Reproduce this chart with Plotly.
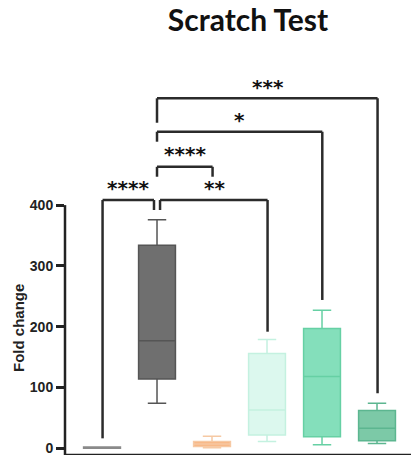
import plotly.graph_objects as go

groups = ["Control", "Scratch", "G3", "G4", "G5", "G6"]
xpos = [0, 1, 2, 3, 4, 5]
q1 = [0, 114, 3, 22, 19, 12.5]
median = [1, 177, 7, 63, 118, 33]
q3 = [2, 334, 11, 156, 197, 62]
lowerfence = [0, 74, 1, 11, 6, 8]
upperfence = [2, 376, 20, 179, 227, 74]
fills = ["#9a9a9a", "#6f6f6f", "#f8b37f", "#dcf8ee", "#84dfbb", "#7cc9a7"]
edges = ["#8a8a8a", "#555555", "#f6c9a4", "#c4f1e0", "#66d0a4", "#5cb690"]

# significance brackets: (x_left, x_right, y_bar, y_left_end, y_right_end, label, label_x, label_y)
br_xl = [1.0, 1.0, 1.0, 0.01, 1.055]
br_xr = [5.01, 4.005, 2.01, 0.945, 3.01]
br_y = [575.7, 520.7, 463, 408.4, 408.4]
br_yl = [535.5, 504.3, 446.7, 16.4, 392]
br_yr = [90.5, 244, 446.7, 392, 191.8]
br_lab = ["***", "*", "****", "****", "**"]
br_lx = [3.02, 2.5, 1.5, 0.48, 2.04]
br_ly = [594.7, 540, 483.6, 428.6, 428.6]

fig = go.Figure()
for i in range(len(groups)):
    fig.add_trace(go.Box(
        x=[xpos[i]], q1=[q1[i]], median=[median[i]], q3=[q3[i]],
        lowerfence=[lowerfence[i]], upperfence=[upperfence[i]],
        fillcolor=fills[i], line=dict(color=edges[i], width=1.5),
        width=0.67, whiskerwidth=0.5, boxpoints=False, name=groups[i],
        showlegend=False, hoverinfo="skip"))

shapes = []
lc = "#2b2b2b"
for i in range(len(br_lab)):
    shapes.append(dict(type="line", xref="x", yref="y", x0=br_xl[i], x1=br_xr[i],
                       y0=br_y[i], y1=br_y[i], line=dict(color=lc, width=2.5)))
    shapes.append(dict(type="line", xref="x", yref="y", x0=br_xl[i], x1=br_xl[i],
                       y0=br_y[i], y1=br_yl[i], line=dict(color=lc, width=2.5)))
    shapes.append(dict(type="line", xref="x", yref="y", x0=br_xr[i], x1=br_xr[i],
                       y0=br_y[i], y1=br_yr[i], line=dict(color=lc, width=2.5)))
# axis lines
shapes.append(dict(type="line", xref="paper", yref="y", x0=0, x1=0, y0=-11, y1=400,
                   line=dict(color="#222", width=2.5)))
shapes.append(dict(type="line", xref="paper", yref="y", x0=0, x1=1, y0=-11, y1=-11,
                   line=dict(color="#222", width=2.5)))

annotations = []
for i in range(len(br_lab)):
    annotations.append(dict(x=br_lx[i], y=br_ly[i], xref="x", yref="y", text=br_lab[i],
                            showarrow=False, xanchor="center", yanchor="middle",
                            font=dict(family="DejaVu Sans", size=20, color="#111", weight="bold")))
annotations.append(dict(x=(18 - 65) / 346, y=(455 - 328) / 395, xref="paper", yref="paper",
                        text="Fold change", textangle=-90, showarrow=False,
                        xanchor="center", yanchor="middle",
                        font=dict(family="Liberation Sans", size=15, color="#222", weight="bold")))

fig.update_layout(
    width=411, height=463,
    margin=dict(l=65, r=0, t=60, b=8),
    paper_bgcolor="white", plot_bgcolor="white",
    title=dict(text="Scratch Test", x=248 / 411, xanchor="center", xref="container",
               y=1 - 20 / 463, yanchor="middle", yref="container",
               font=dict(family="Lato", size=30, color="#111", weight="bold")),
    xaxis=dict(range=[-0.673, 5.618], showgrid=False, zeroline=False, showline=False,
               showticklabels=False, ticks=""),
    yaxis=dict(range=[-11, 638.7], showgrid=False, zeroline=False, showline=False,
               tickvals=[0, 100, 200, 300, 400], ticks="outside", ticklen=8, tickwidth=2.5,
               tickcolor="#222",
               tickfont=dict(family="Liberation Sans", size=14, color="#222", weight="bold")),
    shapes=shapes, annotations=annotations,
)
fig.write_html("out.html")
